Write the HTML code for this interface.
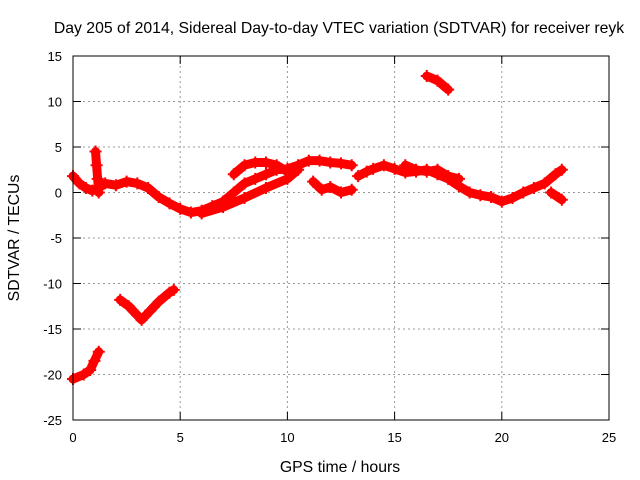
<!DOCTYPE html>
<html><head><meta charset="utf-8"><style>
body{margin:0;background:#fff}
svg{display:block;font-family:"Liberation Sans",sans-serif;font-size:13px}
</style></head><body>
<svg id="c" width="640" height="480">
<text x="339" y="33" text-anchor="middle" style="font-size:15.8px">Day 205 of 2014, Sidereal Day-to-day VTEC variation (SDTVAR) for receiver reyk</text>
<text x="340" y="472" text-anchor="middle" style="font-size:15.8px">GPS time / hours</text>
<text transform="translate(19,238) rotate(-90)" text-anchor="middle" style="font-size:15.8px">SDTVAR / TECUs</text>
<g id="grid"></g><g id="data"></g>
<rect x="73" y="56" width="536" height="364" fill="none" stroke="#000"/>
</svg>
<script>
const xTicks=[0,5,10,15,20,25];
const yTicks=[15,10,5,0,-5,-10,-15,-20,-25];
const trackMain=[[0,1.8],[0.3,1],[0.6,0.5],[0.9,0.2],[1.2,0.5],[1.5,1],[2,0.8],[2.5,1.2],[3,1],[3.5,0.5],[4,-0.5],[4.5,-1.2],[5,-1.8],[5.5,-2.2],[6,-2],[6.5,-1.5],[7,-1],[7.5,0],[8,1],[8.5,1.5],[9,2],[9.5,2.5],[10,2.6],[10.5,3],[11,3.5],[11.5,3.5],[12,3.3],[12.5,3.2],[13,3]];
const trackMain2=[[13.3,1.8],[13.7,2.3],[14,2.6],[14.5,3],[15,2.6],[15.5,2.2],[16,2.3],[16.5,2.5],[17,2],[17.5,1.5],[18,0.7],[18.5,0],[19,-0.3],[19.5,-0.5],[20,-1],[20.5,-0.6],[21,0],[21.5,0.5],[22,1],[22.5,2],[22.8,2.5]];
const trackUpper=[[7.5,2],[8,3],[8.5,3.3],[9,3.3],[9.5,3],[10,2.3]];
const trackLower=[[6,-2.3],[7,-1.6],[8,-0.6],[9,0.5],[10,1.5],[10.5,2.5]];
const trackDip=[[11.2,1.2],[11.6,0.3],[12,0.6],[12.5,0],[13,0.3]];
const trackE=[[15.5,3],[16,2.5],[16.5,2.3],[17,2.5],[17.5,1.8],[18,1.5]];
const trackSpike=[[1.05,4.5],[1.1,3],[1.15,1.5],[1.2,0]];
const trackStart=[[0,-20.5],[0.5,-20],[0.8,-19.5],[1,-18.5],[1.2,-17.5]];
const trackMid=[[2.2,-11.8],[2.6,-12.5],[3,-13.5],[3.2,-14],[3.6,-13],[4,-12],[4.5,-11],[4.7,-10.7]];
const trackHigh=[[16.5,12.8],[17,12.3],[17.5,11.3]];
const trackTail=[[22.3,0],[22.8,-0.8]];
const tracks=[trackMain,trackMain2,trackUpper,trackLower,trackDip,trackE,trackSpike,trackStart,trackMid,trackHigh,trackTail];
const X=h=>73+h*536/25, Y=v=>56+(15-v)*364/40;
const NS="http://www.w3.org/2000/svg";
const g=document.getElementById('grid'), d=document.getElementById('data');
function mk(p,t,a){const e=document.createElementNS(NS,t);for(const k in a)e.setAttribute(k,a[k]);p.appendChild(e);return e;}
xTicks.forEach(t=>{const x=X(t);
 if(t>0&&t<25){const l=mk(g,'line',{x1:x,x2:x,y1:56,y2:420,stroke:'#999','stroke-dasharray':'2,3'});}
 mk(g,'line',{x1:x,x2:x,y1:420,y2:412,stroke:'#000'});mk(g,'line',{x1:x,x2:x,y1:56,y2:64,stroke:'#000'});
 const tx=mk(g,'text',{x:x,y:442,'text-anchor':'middle'});tx.textContent=t;
 });
yTicks.forEach(t=>{const y=Y(t);
 if(t<15&&t>-25){const l=mk(g,'line',{x1:73,x2:609,y1:y,y2:y,stroke:'#999','stroke-dasharray':'2,3'});}
 mk(g,'line',{x1:73,x2:81,y1:y,y2:y,stroke:'#000'});mk(g,'line',{x1:609,x2:601,y1:y,y2:y,stroke:'#000'});
 const tx=mk(g,'text',{x:62,y:y+5,'text-anchor':'end'});tx.textContent=t;
 });
tracks.forEach(tr=>{
 const pl=mk(d,'polyline',{points:tr.map(p=>X(p[0])+','+Y(p[1])).join(' '),fill:'none',stroke:'#f00','stroke-width':9,'stroke-linejoin':'round','stroke-linecap':'round'});
 
 tr.forEach(p=>{const x=X(p[0]),y=Y(p[1]);
  const m=mk(d,'path',{d:`M${x-6},${y}H${x+6}M${x},${y-6}V${y+6}`,stroke:'#f00','stroke-width':2});
  });
});
</script>
</body></html>
